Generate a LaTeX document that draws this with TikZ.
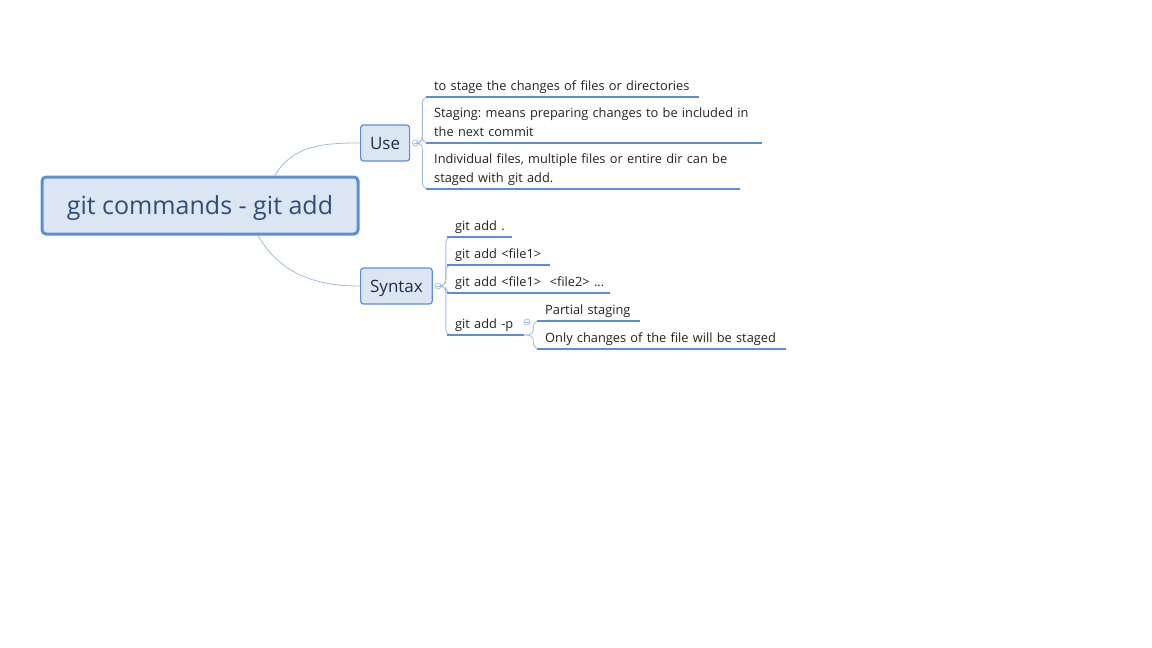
\documentclass[tikz,border=0pt]{standalone}
\usepackage{fontspec}
\setmainfont{Open Sans}
\frenchspacing
\definecolor{topicfill}{HTML}{DCE6F2}
\definecolor{topicline}{HTML}{5B8FD5}
\definecolor{branch}{HTML}{9DBDE8}
\definecolor{titletext}{HTML}{2E4D7B}
\definecolor{subtext}{HTML}{1F2E4A}
\definecolor{leaftext}{HTML}{222222}
\tikzset{
  central/.style={draw=topicline, line width=3pt, fill=topicfill, rounded corners=4pt,
    minimum width=316pt, minimum height=57pt, text height=18pt, text depth=0pt,
    text=titletext, font=\fontsize{25}{29}\selectfont},
  subtopic/.style={draw=topicline, line width=1.2pt, fill=topicfill, rounded corners=3pt,
    minimum height=36pt, inner xsep=9.5pt, text height=12.5pt, text depth=0pt, anchor=west,
    text=subtext, font=\fontsize{17}{20}\selectfont},
  leaf/.style={anchor=south west, inner xsep=8pt, inner ysep=0.5pt, align=left,
    execute at end node={\strut}, text=leaftext, font=\fontsize{12.8}{19}\selectfont},
  uline/.style={draw=topicline, line width=2pt},
  branchline/.style={draw=branch, line width=0.8pt},
  spine/.style={branchline, rounded corners=6pt},
  knob/.style={circle, draw=branch, fill=white, inner sep=0pt, minimum size=6pt, line width=0.7pt,
    path picture={\draw[branch, line width=0.6pt] ([xshift=-1.6pt]path picture bounding box.center) -- ([xshift=1.6pt]path picture bounding box.center);}},
}
\begin{document}
\begin{tikzpicture}[x=1pt,y=-1pt]
\useasboundingbox (0,0) rectangle (1152,648);
% central topic and main branches
\node[central] (main) at (200,205.5) {git commands - git add};
\node[subtopic] (use) at (360,143) {Use};
\node[subtopic] (syntax) at (360,286) {Syntax};
\draw[branchline] ([xshift=75pt]main.north) to[out=60,in=180] (use.west);
\draw[branchline] ([xshift=58pt]main.south) to[out=-60,in=180] (syntax.west);
% use
\node[knob] (useknob) at (415.5,143) {};
\node[leaf, text width=257pt] (use1) at (426,97) {\mbox{to stage the changes of files or directories}};
\node[leaf, text width=320pt] (use2) at (426,143) {\mbox{Staging: means preparing changes to be included in}\\\mbox{the next commit}};
\node[leaf, text width=298pt] (use3) at (426,189) {\mbox{Individual files, multiple files or entire dir can be}\\\mbox{staged with git add.}};
\foreach \n in {use1,use2,use3}
  \draw[spine] (useknob.east) -- ++(3.5pt,0) |- (\n.south west);
\foreach \n in {use1,use2,use3}
  \draw[uline] (\n.south west) -- (\n.south east);
% syntax
\node[knob] (synknob) at (438,286) {};
\node[leaf, text width=49pt] (syn1) at (447,237) {\mbox{git add .}};
\node[leaf, text width=87pt] (syn2) at (447,265) {\mbox{git add <file1>}};
\node[leaf, text width=147pt] (syn3) at (447,293) {\mbox{git add <file1>~~<file2> ...}};
\node[leaf, text width=61pt] (syn4) at (447,335) {\mbox{git add -p}};
\foreach \n in {syn1,syn2,syn3,syn4}
  \draw[spine] (synknob.east) -- ++(4.5pt,0) |- (\n.south west);
% partial staging
\node[knob] (pknob) at (527,322) {};
\node[leaf, text width=87pt] (part1) at (537,321) {\mbox{Partial staging}};
\node[leaf, text width=233pt] (part2) at (537,349) {\mbox{Only changes of the file will be staged}};
\foreach \n in {part1,part2}
  \draw[spine] (syn4.south east) -- ++(9pt,0) |- (\n.south west);
\foreach \n in {syn1,syn2,syn3,syn4,part1,part2}
  \draw[uline] (\n.south west) -- (\n.south east);
\end{tikzpicture}
\end{document}
